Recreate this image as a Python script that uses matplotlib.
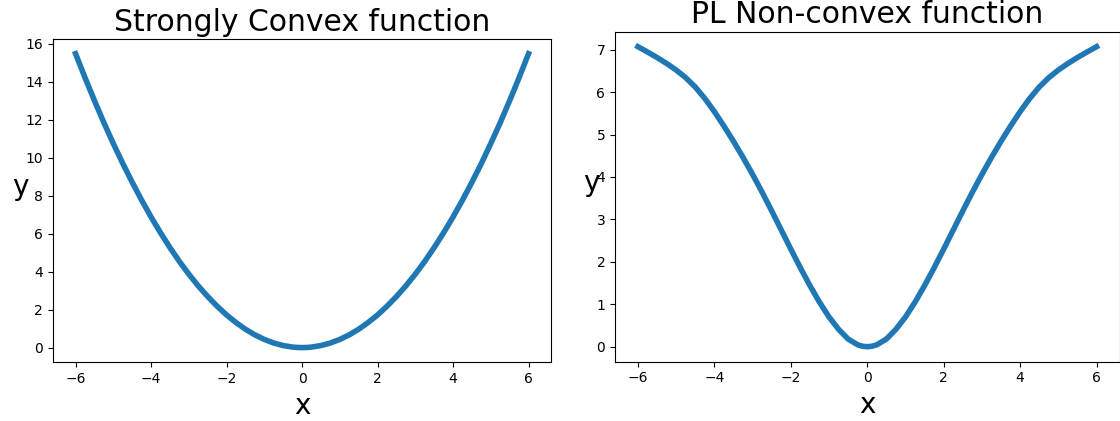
import matplotlib
matplotlib.use("Agg")
import matplotlib.pyplot as plt

# Data (x from -6 to 6, step 0.25, plus +-0.125 near the minimum)
x_vals = [-6.0, -5.75, -5.5, -5.25, -5.0, -4.75, -4.5, -4.25, -4.0, -3.75, -3.5, -3.25,
          -3.0, -2.75, -2.5, -2.25, -2.0, -1.75, -1.5, -1.25, -1.0, -0.75, -0.5, -0.25,
          -0.125, 0.0, 0.125,
          0.25, 0.5, 0.75, 1.0, 1.25, 1.5, 1.75, 2.0, 2.25, 2.5, 2.75, 3.0,
          3.25, 3.5, 3.75, 4.0, 4.25, 4.5, 4.75, 5.0, 5.25, 5.5, 5.75, 6.0]
convex_y = [15.48, 14.22, 13.01, 11.85, 10.75, 9.70, 8.71, 7.77, 6.88, 6.05, 5.27, 4.54,
            3.87, 3.25, 2.69, 2.18, 1.72, 1.32, 0.968, 0.672, 0.43, 0.242, 0.108, 0.027,
            0.007, 0.0, 0.007,
            0.027, 0.108, 0.242, 0.43, 0.672, 0.968, 1.32, 1.72, 2.18, 2.69, 3.25, 3.87,
            4.54, 5.27, 6.05, 6.88, 7.77, 8.71, 9.70, 10.75, 11.85, 13.01, 14.22, 15.48]
pl_y = [7.07, 6.945, 6.815, 6.675, 6.52, 6.34, 6.12, 5.85, 5.54, 5.20, 4.84, 4.46,
        4.06, 3.64, 3.20, 2.75, 2.30, 1.86, 1.44, 1.05, 0.70, 0.41, 0.18, 0.045,
        0.011, 0.0, 0.011,
        0.045, 0.18, 0.41, 0.70, 1.05, 1.44, 1.86, 2.30, 2.75, 3.20, 3.64, 4.06,
        4.46, 4.84, 5.20, 5.54, 5.85, 6.12, 6.34, 6.52, 6.675, 6.815, 6.945, 7.07]

titles = ["Strongly Convex function", "PL Non-convex function"]

W, H = 1120, 421
fig = plt.figure(figsize=(W / 100, H / 100), dpi=100)

def frac(l, r, t, b):
    return [l / W, (H - b) / H, (r - l) / W, (b - t) / H]

ax1 = fig.add_axes(frac(52.9, 551.2, 39.0, 362.3))
ax2 = fig.add_axes(frac(615.0, 1119.5, 31.7, 361.7))

for ax, y, t in [(ax1, convex_y, titles[0]), (ax2, pl_y, titles[1])]:
    ax.plot(x_vals, y, color="#1f77b4", linewidth=4)
    ax.set_title(t, fontsize=21.5)
    ax.set_xlabel("x", fontsize=20)
    ax.set_ylabel("y", fontsize=20, rotation=0)

fig.savefig("out.png", dpi=100)
